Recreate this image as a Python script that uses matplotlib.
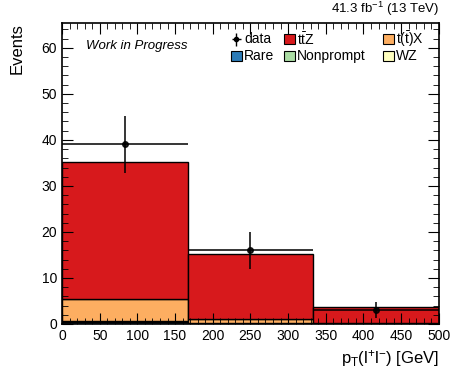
import matplotlib.pyplot as plt
import matplotlib.patches as mpatches
import numpy as np

plt.rcParams['font.family'] = ['Liberation Sans', 'DejaVu Sans']
plt.rcParams['mathtext.fontset'] = 'custom'
plt.rcParams['mathtext.rm'] = 'Liberation Sans'
plt.rcParams['mathtext.it'] = 'Liberation Sans:italic'

bin_edges = [0, 167, 333, 500]
# stacked backgrounds, bottom to top
rare = [0.4, 0.15, 0.1]
nonprompt = [0.05, 0.0, 0.0]
wz = [0.1, 0.05, 0.0]
tx = [4.8, 0.95, 0.15]
ttz = [29.9, 14.0, 3.35]
data = [39, 16, 3]

samples = ["Rare", "Nonprompt", "WZ", r"t($\bar{\rm t}$)X", r"t$\bar{\rm t}$Z"]
colors = ["#2c7bb6", "#abdda4", "#ffffbf", "#fdae61", "#d7191c"]


def legend_box(ax, x, y, color, label):
    ax.add_patch(mpatches.Rectangle((x, y - 0.0165), 0.029, 0.033,
                                    transform=ax.transAxes, facecolor=color,
                                    edgecolor='black', lw=0.8, clip_on=False))
    ax.text(x + 0.034, y, label, transform=ax.transAxes, ha='left',
            va='center', fontsize=10)


def main():
    fig = plt.figure(figsize=(4.51, 3.68), dpi=100)
    ax = fig.add_axes([0.1375, 0.1196, 0.8355, 0.8179])

    edges = np.array(bin_edges)
    left = edges[:-1]
    width = np.diff(edges)
    bottom = np.zeros(3)
    for vals, col in zip([rare, nonprompt, wz, tx, ttz], colors):
        ax.bar(left, vals, width=width, bottom=bottom, align='edge',
               color=col, edgecolor='black', linewidth=1.0)
        bottom += np.array(vals)

    centers = 0.5 * (edges[:-1] + edges[1:])
    d = np.array(data, dtype=float)
    ax.errorbar(centers, d, xerr=width / 2, yerr=np.sqrt(d), fmt='o',
                color='black', ms=4, elinewidth=1.3, capsize=0, alpha=0.85)

    ax.set_xlim(0, 500)
    ax.set_ylim(0, 65.4)
    ax.set_xticks(np.arange(0, 501, 50))
    ax.set_xticks(np.arange(0, 501, 10), minor=True)
    ax.set_yticks(np.arange(0, 61, 10))
    ax.set_yticks(np.arange(0, 66, 2), minor=True)
    ax.tick_params(which='both', direction='in', top=True, right=True,
                   labelsize=10)
    ax.tick_params(which='major', length=8)
    ax.tick_params(which='minor', length=4)
    for s in ax.spines.values():
        s.set_linewidth(1.2)

    ax.set_xlabel(r"p$_{\rm T}$(l$^{+}$l$^{-}$) [GeV]", fontsize=12,
                  ha='right', x=1.0)
    ax.set_ylabel("Events", fontsize=12, ha='right', y=1.0)
    ax.yaxis.set_label_coords(-0.10, 1.0)

    ax.text(1.0, 1.015, r"41.3 fb$^{-1}$ (13 TeV)", transform=ax.transAxes,
            ha='right', va='bottom', fontsize=9.5)
    ax.text(0.064, 0.925, "Work in Progress", transform=ax.transAxes,
            ha='left', va='center', fontsize=9.5, style='italic')

    # legend, three columns placed by hand
    r1, r2 = 0.946, 0.890
    ax.errorbar([0.462], [r1], xerr=[0.012], yerr=[0.022], fmt='o', ms=3,
                color='black', elinewidth=1.0, capsize=0,
                transform=ax.transAxes, clip_on=False)
    ax.text(0.485, r1, "data", transform=ax.transAxes, ha='left',
            va='center', fontsize=10)
    legend_box(ax, 0.448, r2, colors[0], samples[0])
    legend_box(ax, 0.589, r1, colors[4], samples[4])
    legend_box(ax, 0.589, r2, colors[1], samples[1])
    legend_box(ax, 0.852, r1, colors[3], samples[3])
    legend_box(ax, 0.852, r2, colors[2], samples[2])

    fig.savefig("out.png", dpi=100)


if __name__ == "__main__":
    main()
